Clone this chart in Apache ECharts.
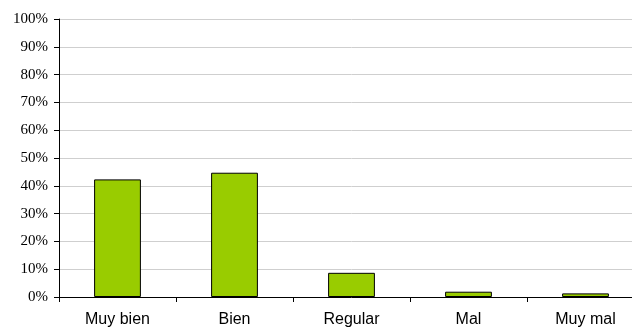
<!DOCTYPE html>
<html><head><meta charset="utf-8">
<script src="https://cdn.jsdelivr.net/npm/echarts@6/dist/echarts.min.js"></script>
<style>html,body{margin:0;padding:0;background:#fff;overflow:hidden}#c{width:644px;height:329px}</style>
</head><body><div id="c"></div>
<script>
const categories = ['Muy bien', 'Bien', 'Regular', 'Mal', 'Muy mal'];
const values = [42.3, 44.7, 8.7, 1.9, 1.3];
const yTicks = [0, 10, 20, 30, 40, 50, 60, 70, 80, 90, 100];

const chart = echarts.init(document.getElementById('c'));
chart.setOption({
  animation: false,
  grid: { left: 59, right: 0, top: 19, bottom: 32 },
  xAxis: {
    type: 'category', data: categories,
    axisLine: { lineStyle: { color: '#000', width: 1 } },
    axisTick: { show: true, length: 5, lineStyle: { color: '#000' } },
    axisLabel: { fontFamily: 'Liberation Sans', fontSize: 16, color: '#000', margin: 15 }
  },
  yAxis: {
    type: 'value', min: yTicks[0], max: yTicks[yTicks.length - 1], interval: 10,
    axisLine: { show: true, lineStyle: { color: '#000', width: 1 } },
    axisTick: { show: true, length: 5, lineStyle: { color: '#000' } },
    splitLine: { lineStyle: { color: '#cfcfcf', width: 1 } },
    axisLabel: { fontFamily: 'Liberation Serif', fontSize: 15, color: '#000', margin: 11,
      formatter: v => v + '%' }
  },
  series: [{
    type: 'bar', data: values, barWidth: '40%',
    itemStyle: { color: '#99cc00', borderColor: '#000', borderWidth: 1 }
  }]
});
</script></body></html>
